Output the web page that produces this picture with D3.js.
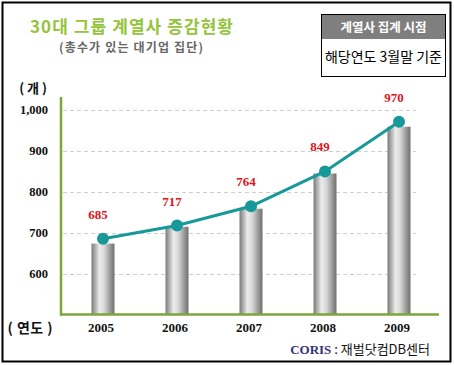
<!DOCTYPE html>
<html>
<head>
<meta charset="utf-8">
<script src="https://cdn.jsdelivr.net/npm/d3@7"></script>
<style>
  body { margin: 0; background: #fff; }
  svg { display: block; }
</style>
</head>
<body>
<svg id="chart" width="454" height="365"></svg>
<script>
// Data
const years = ['2005', '2006', '2007', '2008', '2009'];
const affiliates = [685, 717, 764, 849, 970];
const barValues = [673, 714, 758, 844, 958];
const yTicks = [600, 700, 800, 900, 1000];

const svg = d3.select('#chart');
const krFont = '"Noto Sans CJK KR", "Noto Sans", sans-serif';
const numFont = '"Liberation Serif", "DejaVu Serif", serif';

// gradient for the cylinder-like bars
const defs = svg.append('defs');
const grad = defs.append('linearGradient')
    .attr('id', 'barGrad')
    .attr('x1', '0%').attr('x2', '100%')
    .attr('y1', '0%').attr('y2', '0%');
grad.append('stop').attr('offset', '0%').attr('stop-color', '#7a7a7a');
grad.append('stop').attr('offset', '35%').attr('stop-color', '#ececec');
grad.append('stop').attr('offset', '55%').attr('stop-color', '#d8d8d8');
grad.append('stop').attr('offset', '100%').attr('stop-color', '#6e6e6e');

// outer frame
svg.append('rect')
    .attr('x', 2.5).attr('y', 2.5)
    .attr('width', 448).attr('height', 359)
    .attr('fill', '#fff')
    .attr('stroke', '#000')
    .attr('stroke-width', 2);

// title
svg.append('text')
    .attr('x', 30).attr('y', 33)
    .text('30대 그룹 계열사 증감현황')
    .attr('textLength', 203)
    .style('font-family', krFont)
    .style('font-weight', 'bold')
    .style('font-size', '17px')
    .style('fill', '#94c43c');
svg.append('text')
    .attr('x', 59).attr('y', 52)
    .text('(총수가 있는 대기업 집단)')
    .attr('textLength', 144)
    .style('font-family', krFont)
    .style('font-weight', 'bold')
    .style('font-size', '12px')
    .style('fill', '#666');

// note box
svg.append('rect')
    .attr('x', 321.5).attr('y', 14.5)
    .attr('width', 124).attr('height', 62)
    .attr('fill', '#fff')
    .attr('stroke', '#000')
    .attr('stroke-width', 1);
svg.append('rect')
    .attr('x', 322).attr('y', 15)
    .attr('width', 123).attr('height', 24)
    .attr('fill', '#7f7f7f');
svg.append('text')
    .attr('x', 383.5).attr('y', 32)
    .text('계열사 집계 시점')
    .style('font-family', krFont)
    .style('font-weight', 'bold')
    .style('font-size', '12.5px')
    .style('fill', '#fff')
    .style('text-anchor', 'middle');
svg.append('text')
    .attr('x', 383.5).attr('y', 62)
    .text('해당연도 3월말 기준')
    .attr('textLength', 117)
    .style('font-family', krFont)
    .style('font-size', '14px')
    .style('fill', '#000')
    .style('text-anchor', 'middle');

// scales
const baseY = 314.5;
const y = d3.scaleLinear().domain([500, 1000]).range([baseY, 109.5]);
const x = d3.scalePoint().domain(years).range([103, 399]);
const axisLeft = 61;
const axisRight = 439;
const gridRight = 416;
const barW = 23;

// gridlines
svg.append('g')
    .selectAll('line')
    .data(yTicks)
    .enter()
    .append('line')
    .attr('x1', axisLeft + 2).attr('x2', gridRight)
    .attr('y1', d => Math.round(y(d)) + 0.5)
    .attr('y2', d => Math.round(y(d)) + 0.5)
    .attr('stroke', '#cfcfcf')
    .attr('stroke-width', 1)
    .attr('stroke-dasharray', '4,3');

// y tick labels
svg.append('g')
    .selectAll('text')
    .data(yTicks)
    .enter()
    .append('text')
    .attr('x', 48)
    .attr('y', d => y(d) + 4.5)
    .text(d => d3.format(',')(d))
    .style('font-family', numFont)
    .style('font-weight', 'bold')
    .style('font-size', '12.5px')
    .style('fill', '#111')
    .style('text-anchor', 'end');

svg.append('text')
    .attr('x', 33).attr('y', 93)
    .text('( 개 )')
    .style('font-family', krFont)
    .style('font-weight', 'bold')
    .style('font-size', '13px')
    .style('fill', '#111')
    .style('text-anchor', 'middle');

// bars
svg.append('g')
    .selectAll('rect')
    .data(barValues)
    .enter()
    .append('rect')
    .attr('x', (d, i) => x(years[i]) - barW / 2)
    .attr('y', d => y(d))
    .attr('width', barW)
    .attr('height', d => baseY - y(d))
    .attr('fill', 'url(#barGrad)');

// axes lines
svg.append('line')
    .attr('x1', axisLeft).attr('x2', axisLeft)
    .attr('y1', 97).attr('y2', baseY + 1)
    .attr('stroke', '#7aa63a')
    .attr('stroke-width', 2.5);
svg.append('line')
    .attr('x1', axisLeft - 1).attr('x2', axisRight)
    .attr('y1', baseY).attr('y2', baseY)
    .attr('stroke', '#7aa63a')
    .attr('stroke-width', 2.5);

// x labels
svg.append('g')
    .selectAll('text')
    .data(years)
    .enter()
    .append('text')
    .attr('x', d => x(d) - 2)
    .attr('y', 332)
    .text(d => d)
    .style('font-family', numFont)
    .style('font-weight', 'bold')
    .style('font-size', '13px')
    .style('fill', '#111')
    .style('text-anchor', 'middle');
svg.append('text')
    .attr('x', 30).attr('y', 332.5)
    .text('( 연도 )')
    .attr('textLength', 45)
    .style('font-family', krFont)
    .style('font-weight', 'bold')
    .style('font-size', '14px')
    .style('fill', '#111')
    .style('text-anchor', 'middle');

// line + dots
const line = d3.line()
    .x((d, i) => x(years[i]))
    .y(d => y(d));
svg.append('path')
    .datum(affiliates)
    .attr('d', line)
    .attr('fill', 'none')
    .attr('stroke', '#17999a')
    .attr('stroke-width', 3);
svg.append('g')
    .selectAll('circle')
    .data(affiliates)
    .enter()
    .append('circle')
    .attr('cx', (d, i) => x(years[i]))
    .attr('cy', d => y(d))
    .attr('r', 6)
    .attr('fill', '#17999a');

// value labels
svg.append('g')
    .selectAll('text')
    .data(affiliates)
    .enter()
    .append('text')
    .attr('x', (d, i) => x(years[i]) - 5)
    .attr('y', d => y(d) - 20)
    .text(d => d)
    .style('font-family', numFont)
    .style('font-weight', 'bold')
    .style('font-size', '13px')
    .style('fill', '#e0141b')
    .style('text-anchor', 'middle');

// source
const src = svg.append('text')
    .attr('x', 430).attr('y', 354)
    .style('text-anchor', 'end')
    .style('font-size', '13px');
src.append('tspan')
    .text('CORIS')
    .style('font-family', numFont)
    .style('font-weight', 'bold')
    .style('fill', '#33337a');
src.append('tspan')
    .text(' : 재벌닷컴DB센터')
    .style('font-family', krFont)
    .style('fill', '#111');
</script>
</body>
</html>
